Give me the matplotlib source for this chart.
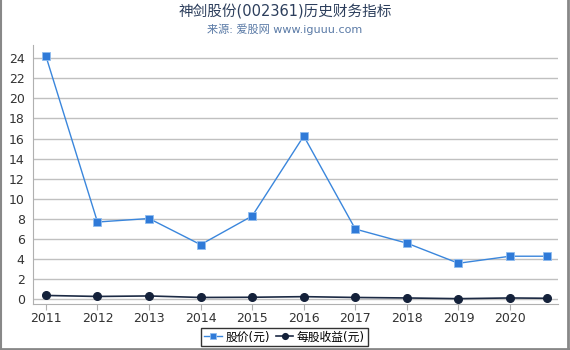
import matplotlib
matplotlib.use("Agg")
import matplotlib.pyplot as plt
from matplotlib.lines import Line2D

plt.rcParams['font.family'] = ['DejaVu Sans', 'Noto Sans CJK SC']

years = [2011, 2012, 2013, 2014, 2015, 2016, 2017, 2018, 2019, 2020, 2020.72]
price = [24.2, 7.7, 8.05, 5.45, 8.3, 16.25, 7.0, 5.6, 3.6, 4.3, 4.3]
eps = [0.4, 0.3, 0.35, 0.2, 0.22, 0.28, 0.2, 0.15, 0.08, 0.15, 0.12]
xticks = [2011, 2012, 2013, 2014, 2015, 2016, 2017, 2018, 2019, 2020]
yticks = list(range(0, 25, 2))

fig = plt.figure(figsize=(5.7, 3.5), dpi=100)
ax = fig.add_axes([33/570, 1 - 304/350, (558-33)/570, (304-45)/350])

ax.plot(years, price, color='#3a86dc', lw=1, marker='s', ms=5.5,
        markerfacecolor='#2f7ad8', markeredgecolor='#8fbcef', markeredgewidth=0.6,
        label='股价(元)', zorder=3)
ax.plot(years, eps, color='#1c2a44', lw=1.2, marker='o', ms=5.5,
        markerfacecolor='#14213a', markeredgecolor='#14213a',
        label='每股收益(元)', zorder=3)

ax.set_xlim(2010.75, 2020.93)
ax.set_ylim(-0.45, 25.3)
ax.set_xticks(xticks)
ax.set_yticks(yticks)
ax.grid(axis='y', color='#c0c0c0', lw=1)
ax.set_axisbelow(True)
for s in ['top', 'right']:
    ax.spines[s].set_visible(False)
ax.spines['left'].set_color('#b0b0b0')
ax.spines['bottom'].set_color('#b0b0b0')
ax.tick_params(axis='y', length=0, labelsize=9, colors='#333333', pad=6)
ax.tick_params(axis='x', length=4, color='#b0b0b0', labelsize=9, labelcolor='#333333', pad=2)

fig.text(0.5, 1 - 12/350, '神剑股份(002361)历史财务指标', ha='center', va='center',
         fontsize=10.5, color='#2c3e5c')
fig.text(0.5, 1 - 29/350, '来源: 爱股网 www.iguuu.com', ha='center', va='center',
         fontsize=8, color='#5a7aa6')

leg = fig.legend(loc='center', bbox_to_anchor=(284.5/570, 1 - 337/350), ncol=2,
                 frameon=True, fontsize=8.5, handlelength=1.5, handletextpad=0.3,
                 columnspacing=0.5, borderpad=0.25, fancybox=False, markerscale=0.75)
leg.get_frame().set_edgecolor('black')
leg.get_frame().set_linewidth(1)

# outer frame
fig.add_artist(Line2D([0.5/570, 0.5/570], [0, 1], color='#888888', lw=1.5, transform=fig.transFigure))
fig.add_artist(Line2D([0, 1], [1.5/350, 1.5/350], color='#888888', lw=2, transform=fig.transFigure))
fig.add_artist(Line2D([568/570, 568/570], [0, 1], color='#888888', lw=2, transform=fig.transFigure))

fig.savefig('out.png', dpi=100)
